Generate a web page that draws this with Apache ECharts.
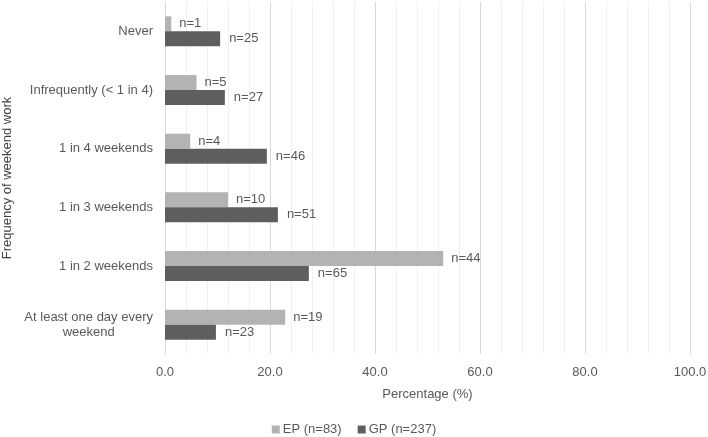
<!DOCTYPE html>
<html><head><meta charset="utf-8">
<script src="https://cdn.jsdelivr.net/npm/echarts@6/dist/echarts.min.js"></script>
<style>html,body{margin:0;padding:0;background:#fff}#c{width:708px;height:437px}</style>
</head><body><div id="c"></div>
<script>
const categories = ['Never', 'Infrequently (< 1 in 4)', '1 in 4 weekends', '1 in 3 weekends', '1 in 2 weekends', 'At least one day every\nweekend'];
const epValues = [1.2, 6.0, 4.8, 12.0, 53.0, 22.9];
const gpValues = [10.5, 11.4, 19.4, 21.5, 27.4, 9.7];
const epCounts = [1, 5, 4, 10, 44, 19];
const gpCounts = [25, 27, 46, 51, 65, 23];
const xTicks = [0, 20, 40, 60, 80, 100];
const seriesNames = ['EP (n=83)', 'GP (n=237)'];

const FONT = 'Liberation Sans';
const chart = echarts.init(document.getElementById('c'), null, {renderer: 'canvas'});
chart.setOption({
  animation: false,
  textStyle: {fontFamily: FONT},
  grid: {left: 165, right: 18, top: 2, bottom: 83, containLabel: false, outerBoundsMode: 'none'},
  legend: {
    top: 418, left: 'center',
    itemWidth: 8, itemHeight: 8, itemGap: 16,
    icon: 'rect',
    textStyle: {fontFamily: FONT, fontSize: 13, color: '#595959', padding: [0, 0, 0, -2]},
    data: seriesNames
  },
  xAxis: {
    type: 'value', min: xTicks[0], max: xTicks[xTicks.length - 1], interval: 20,
    name: 'Percentage (%)', nameLocation: 'middle', nameGap: 34,
    nameTextStyle: {fontFamily: FONT, fontSize: 13, color: '#595959'},
    axisLine: {show: false}, axisTick: {show: false},
    axisLabel: {fontFamily: FONT, fontSize: 13, color: '#595959', margin: 12, formatter: v => v.toFixed(1)},
    splitLine: {show: true, lineStyle: {color: '#d9d9d9', width: 1}},
    minorTick: {show: false, splitNumber: 5},
    minorSplitLine: {show: true, lineStyle: {color: '#f0f0f0', width: 1}}
  },
  yAxis: {
    type: 'category', data: categories, inverse: true,
    name: 'Frequency of weekend work', nameLocation: 'middle', nameGap: 148, nameRotate: 90,
    nameTextStyle: {fontFamily: FONT, fontSize: 13, color: '#404040'},
    axisLine: {show: true, lineStyle: {color: '#d9d9d9'}},
    axisTick: {show: false},
    axisLabel: {
      margin: 12, color: '#595959', fontSize: 13, fontFamily: FONT, lineHeight: 15,
      formatter: v => v.split('\n').map(s => '{a|' + s + '}').join('\n'),
      rich: {a: {align: 'center', fontSize: 13, fontFamily: FONT, color: '#595959', lineHeight: 15}}
    }
  },
  series: [
    {
      name: seriesNames[0], type: 'bar', data: epValues, barGap: '0%', barCategoryGap: '49%',
      itemStyle: {color: '#b3b3b3'},
      label: {show: true, position: 'right', distance: 8, color: '#595959', fontSize: 13, fontFamily: FONT,
        formatter: p => 'n=' + epCounts[p.dataIndex]}
    },
    {
      name: seriesNames[1], type: 'bar', data: gpValues, barGap: '0%', barCategoryGap: '49%',
      itemStyle: {color: '#5e5e5e'},
      label: {show: true, position: 'right', distance: 9, color: '#595959', fontSize: 13, fontFamily: FONT,
        formatter: p => 'n=' + gpCounts[p.dataIndex]}
    }
  ]
});
</script></body></html>
